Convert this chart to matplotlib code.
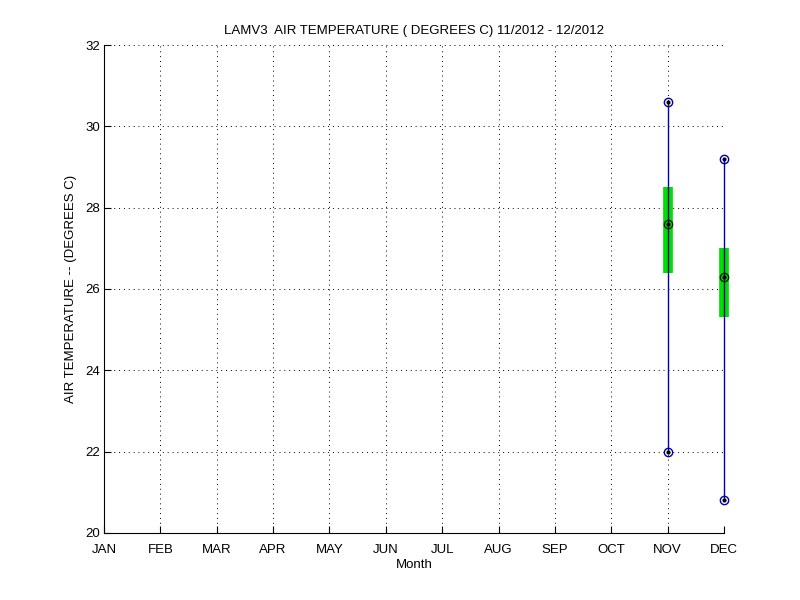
import matplotlib
matplotlib.use("Agg")
import matplotlib.pyplot as plt

plt.rcParams['font.family'] = ['Liberation Sans', 'DejaVu Sans']

# --- data ---
months = ['JAN', 'FEB', 'MAR', 'APR', 'MAY', 'JUN',
          'JUL', 'AUG', 'SEP', 'OCT', 'NOV', 'DEC']
box_month = [11, 12]
t_max = [30.6, 29.2]
t_q3 = [28.5, 27.0]
t_med = [27.6, 26.3]
t_q1 = [26.4, 25.3]
t_min = [22.0, 20.8]

fig = plt.figure(figsize=(8, 6), dpi=100)
ax = fig.add_axes([0.13, 0.1117, 0.775, 0.8133])

for i, m in enumerate(box_month):
    # green interquartile bar
    ax.plot([m, m], [t_q1[i], t_q3[i]], color='#00e000', lw=7,
            solid_capstyle='butt', zorder=2, clip_on=False)
    # blue whisker min..max
    ax.plot([m, m], [t_min[i], t_max[i]], color='#0000b0', lw=1,
            zorder=3, clip_on=False)
    ax.plot([m, m], [t_min[i], t_max[i]], 'o', ms=6, mfc='none',
            mec='#0000b0', mew=1, zorder=4, clip_on=False)
    ax.plot([m], [t_med[i]], 'o', ms=6, mfc='none', mec='#102010',
            mew=1, zorder=4, clip_on=False)
    ax.plot([m, m, m], [t_min[i], t_med[i], t_max[i]], '.', ms=4,
            color='black', zorder=5, clip_on=False)

ax.set_xlim(1, 12)
ax.set_ylim(20, 32)
ax.set_xticks(range(1, 13))
ax.set_xticklabels(months)
ax.set_yticks(range(20, 33, 2))
ax.grid(True, color='black', linestyle=(0, (1, 4)), linewidth=0.7)
ax.set_axisbelow(True)
ax.spines['top'].set_visible(False)
ax.spines['right'].set_visible(False)
ax.tick_params(direction='in', length=5, labelsize=9.5, pad=3)
ax.tick_params(axis='x', pad=8)

ax.set_title('LAMV3  AIR TEMPERATURE ( DEGREES C) 11/2012 - 12/2012',
             fontsize=9.5, pad=8)
ax.set_xlabel('Month', fontsize=9.5, labelpad=2)
ax.set_ylabel('AIR TEMPERATURE -- (DEGREES C)', fontsize=9.5, labelpad=6)

fig.savefig('out.png', dpi=100)
